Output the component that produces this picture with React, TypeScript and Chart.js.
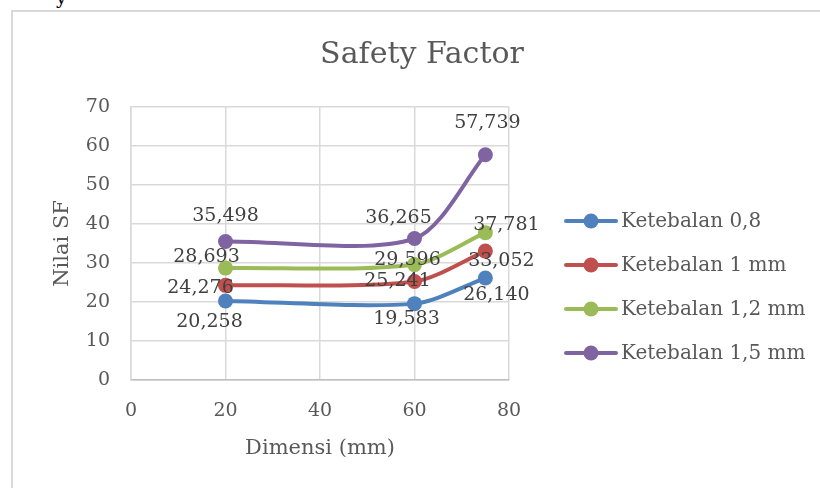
import React, { useEffect, useRef } from "react";
import { Chart, registerables } from "chart.js";

Chart.register(...registerables);

// Plate dimension (mm) and the safety factor for each plate thickness
const dimensions = [20, 60, 75];
const seriesNames = ["Ketebalan 0,8", "Ketebalan 1 mm", "Ketebalan 1,2 mm", "Ketebalan 1,5 mm"];
const sf08 = [20.258, 19.583, 26.14];
const sf10 = [24.276, 25.241, 33.052];
const sf12 = [28.693, 29.596, 37.781];
const sf15 = [35.498, 36.265, 57.739];
const xTickValues = [0, 20, 40, 60, 80];
const yTickValues = [0, 10, 20, 30, 40, 50, 60, 70];
const chartTitle = "Safety Factor";

const colors = ["#4F81BD", "#C0504D", "#9BBB59", "#8064A2"];
const FONT = "'DejaVu Serif', serif";
const TEXT = "#595959";

// where each value label sits relative to its marker (dx, dy in px)
const labelOffsets = [
  [[-16, 21], [-8, 15], [11, 17]],
  [[-25, 3], [-17, 0], [16, 10]],
  [[-19, -11], [-7, -5], [21, -8]],
  [[0, -25], [-16, -21], [2, -32]],
];

const fmt = (v: number) => v.toFixed(3).replace(".", ",");

const valueLabels = {
  id: "valueLabels",
  afterDatasetsDraw(chart: any) {
    const ctx = chart.ctx;
    ctx.save();
    ctx.font = `19px ${FONT}`;
    ctx.fillStyle = "#404040";
    ctx.textAlign = "center";
    ctx.textBaseline = "middle";
    chart.data.datasets.forEach((ds: any, di: number) => {
      const meta = chart.getDatasetMeta(di);
      meta.data.forEach((pt: any, i: number) => {
        const [dx, dy] = labelOffsets[di][i];
        ctx.fillText(fmt(ds.data[i].y), pt.x + dx, pt.y + dy);
      });
    });
    ctx.restore();
  },
};

// title centred over the plot and legend together
const heading = {
  id: "heading",
  afterDraw(chart: any) {
    const ctx = chart.ctx;
    ctx.save();
    ctx.font = `30px ${FONT}`;
    ctx.fillStyle = TEXT;
    ctx.textAlign = "center";
    ctx.textBaseline = "middle";
    ctx.fillText(chartTitle, (chart.width + 24) / 2, 55);
    ctx.restore();
  },
};

// legend to the right of the plot: a line with a marker, then the series name
const sideLegend = {
  id: "sideLegend",
  afterDraw(chart: any) {
    const { ctx, chartArea } = chart;
    const x0 = chartArea.right + 57;
    const y0 = chartArea.top + 114;
    const step = 44;
    ctx.save();
    ctx.font = `20px ${FONT}`;
    ctx.textBaseline = "middle";
    ctx.textAlign = "left";
    chart.data.datasets.forEach((ds: any, i: number) => {
      const y = y0 + i * step;
      ctx.strokeStyle = ds.borderColor;
      ctx.lineWidth = 4;
      ctx.lineCap = "round";
      ctx.beginPath();
      ctx.moveTo(x0, y);
      ctx.lineTo(x0 + 50, y);
      ctx.stroke();
      ctx.fillStyle = ds.borderColor;
      ctx.beginPath();
      ctx.arc(x0 + 25, y, 7.5, 0, Math.PI * 2);
      ctx.fill();
      ctx.fillStyle = TEXT;
      ctx.fillText(ds.label, x0 + 55, y + 1);
    });
    ctx.restore();
  },
};

export default function App() {
  const ref = useRef<HTMLCanvasElement>(null);

  useEffect(() => {
    const all = [sf08, sf10, sf12, sf15];
    const chart = new Chart(ref.current!, {
      type: "line",
      data: {
        datasets: all.map((vals, k) => ({
          label: seriesNames[k],
          data: dimensions.map((d, i) => ({ x: d, y: vals[i] })),
          borderColor: colors[k],
          backgroundColor: colors[k],
          borderWidth: 4,
          pointRadius: 7.5,
          pointBorderWidth: 0,
          pointBackgroundColor: colors[k],
          tension: 0.28,
          fill: false,
        })),
      },
      options: {
        animation: false,
        responsive: false,
        layout: { padding: { left: 14, right: 311, top: 107, bottom: 27 } },
        plugins: {
          title: { display: false },
          legend: { display: false },
          tooltip: { enabled: false },
        },
        scales: {
          x: {
            type: "linear",
            min: 0,
            max: 80,
            afterBuildTicks: (s: any) => {
              s.ticks = xTickValues.map((v) => ({ value: v }));
            },
            afterFit: (s: any) => {
              s.height = 81;
            },
            grid: { color: "#d9d9d9", lineWidth: 1.5, drawTicks: false },
            border: { color: "#bfbfbf", width: 1.5 },
            ticks: { color: TEXT, font: { family: FONT, size: 19 }, padding: 20 },
            title: {
              display: true,
              text: "Dimensi (mm)",
              color: TEXT,
              font: { family: FONT, size: 21 },
              padding: { top: 0, bottom: 0 },
            },
          },
          y: {
            min: 0,
            max: 70,
            afterBuildTicks: (s: any) => {
              s.ticks = yTickValues.map((v) => ({ value: v }));
            },
            afterFit: (s: any) => {
              s.width = 117;
            },
            grid: { color: "#d9d9d9", lineWidth: 1.5, drawTicks: false },
            border: { color: "#d9d9d9", width: 1.5 },
            ticks: { color: TEXT, font: { family: FONT, size: 19 }, padding: 21 },
            title: {
              display: true,
              text: "Nilai SF",
              color: TEXT,
              font: { family: FONT, size: 21 },
              padding: { top: 36, bottom: 0 },
            },
          },
        },
      },
      plugins: [valueLabels, heading, sideLegend],
    });
    return () => chart.destroy();
  }, []);

  return (
    <div style={{ position: "fixed", left: 0, top: 0, width: 820, height: 488, background: "#fff", overflow: "hidden" }}>
      <div style={{ position: "absolute", left: 56, top: -14, fontFamily: FONT, fontSize: 19, color: "#000" }}>y</div>
      <div
        style={{
          position: "absolute",
          left: 11,
          top: 10,
          right: 0,
          bottom: 0,
          borderLeft: "2px solid #d9d9d9",
          borderTop: "2px solid #d9d9d9",
        }}
      />
      <canvas ref={ref} width={820} height={488} style={{ position: "absolute", left: 0, top: 0 }} />
    </div>
  );
}
